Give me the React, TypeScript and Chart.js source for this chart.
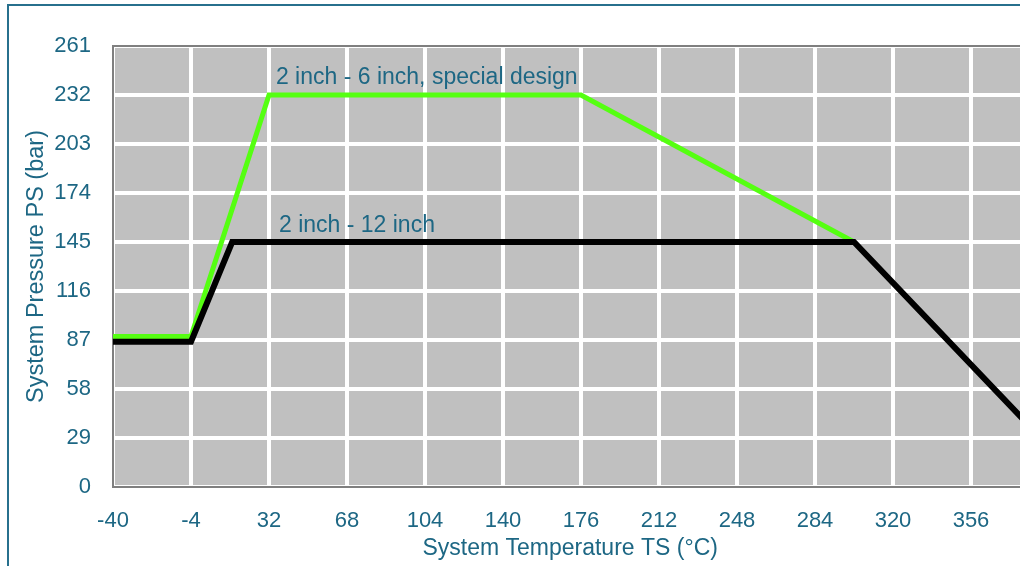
import React, { useEffect, useRef } from "react";
import { Chart, registerables } from "chart.js";

Chart.register(...registerables);

// ---- data ----
const blackTemps = [-40, -4, 15, 302, 392];
const blackPressures = [86, 86, 145, 145, 24];
const greenTemps = [-40, -4, 32, 176, 302];
const greenPressures = [89, 89, 232, 232, 145];

const xMin = -40;
const xMax = 392;
const xStep = 36;
const yMin = 0;
const yMax = 261;
const yStep = 29;

const blackLabel = "2 inch - 12 inch";
const greenLabel = "2 inch - 6 inch, special design";
const xTitle = "System Temperature TS (°C)";
const yTitle = "System Pressure PS (bar)";

const TEAL = "#1d6784";
const FONT = "'Liberation Sans', Arial, sans-serif";

const plotDecor = {
  id: "plotDecor",
  beforeDraw(chart: any) {
    const { ctx, chartArea } = chart;
    ctx.save();
    ctx.fillStyle = "#c0c0c0";
    ctx.fillRect(chartArea.left, chartArea.top, chartArea.right - chartArea.left, chartArea.bottom - chartArea.top);
    ctx.restore();
  },
  beforeDatasetsDraw(chart: any) {
    const { ctx, chartArea } = chart;
    ctx.save();
    ctx.strokeStyle = "#7f7f7f";
    ctx.lineWidth = 2;
    ctx.strokeRect(chartArea.left, chartArea.top, chartArea.right - chartArea.left, chartArea.bottom - chartArea.top);
    ctx.restore();
  },
  afterDatasetsDraw(chart: any) {
    const { ctx, scales } = chart;
    const xs = scales.x;
    const ys = scales.y;
    ctx.save();
    ctx.fillStyle = TEAL;
    ctx.font = `23px ${FONT}`;
    ctx.textAlign = "left";
    ctx.textBaseline = "middle";
    ctx.fillText(greenLabel, xs.getPixelForValue(35.2), ys.getPixelForValue(242.3));
    ctx.fillText(blackLabel, xs.getPixelForValue(36.6), ys.getPixelForValue(154.8));
    // x axis title (centered under the visible part of the plot, as in the source)
    ctx.textAlign = "center";
    ctx.fillText(xTitle, xs.getPixelForValue(171), 549);
    ctx.restore();
  },
};

export default function App() {
  const ref = useRef<HTMLCanvasElement>(null);

  useEffect(() => {
    if (!ref.current) return;
    Chart.defaults.font.family = FONT;
    const chart = new Chart(ref.current, {
      type: "line",
      data: {
        datasets: [
          {
            label: blackLabel,
            data: blackTemps.map((x, i) => ({ x, y: blackPressures[i] })),
            borderColor: "#000000",
            borderWidth: 6,
            pointRadius: 0,
            fill: false,
            tension: 0,
            borderJoinStyle: "miter",
          },
          {
            label: greenLabel,
            data: greenTemps.map((x, i) => ({ x, y: greenPressures[i] })),
            borderColor: "#55ff11",
            borderWidth: 5,
            pointRadius: 0,
            fill: false,
            tension: 0,
            borderJoinStyle: "miter",
          },
        ],
      },
      options: {
        responsive: false,
        animation: false,
        events: [],
        layout: { padding: { top: 46, right: 51, bottom: 0, left: 0 } },
        plugins: { legend: { display: false }, tooltip: { enabled: false } },
        scales: {
          x: {
            type: "linear",
            min: xMin,
            max: xMax,
            afterFit(scale: any) {
              scale.height = 79;
            },
            ticks: {
              stepSize: xStep,
              color: TEAL,
              font: { size: 22 },
              padding: 21,
              maxRotation: 0,
              autoSkip: false,
            },
            grid: { color: "#ffffff", lineWidth: 4, drawTicks: false },
            border: { display: false },
            title: { display: false, text: xTitle },
          },
          y: {
            type: "linear",
            min: yMin,
            max: yMax,
            afterFit(scale: any) {
              scale.width = 113;
            },
            ticks: {
              stepSize: yStep,
              color: TEAL,
              font: { size: 22 },
              padding: 22,
              autoSkip: false,
            },
            grid: { color: "#ffffff", lineWidth: 4, drawTicks: false },
            border: { display: false },
            title: {
              display: true,
              text: yTitle,
              color: TEAL,
              font: { size: 23.5 },
              padding: { top: 22, bottom: 0 },
            },
          },
        },
      },
      plugins: [plotDecor],
    });
    return () => chart.destroy();
  }, []);

  return (
    <div style={{ position: "fixed", left: 0, top: 0, width: 1020, height: 566, overflow: "hidden", background: "#ffffff" }}>
      <div
        style={{
          position: "absolute",
          left: 7,
          top: 4,
          width: 3000,
          height: 3000,
          borderLeft: "2px solid #27708d",
          borderTop: "2px solid #27708d",
        }}
      />
      <canvas ref={ref} width={1100} height={566} style={{ position: "absolute", left: 0, top: 0, width: 1100, height: 566 }} />
    </div>
  );
}
